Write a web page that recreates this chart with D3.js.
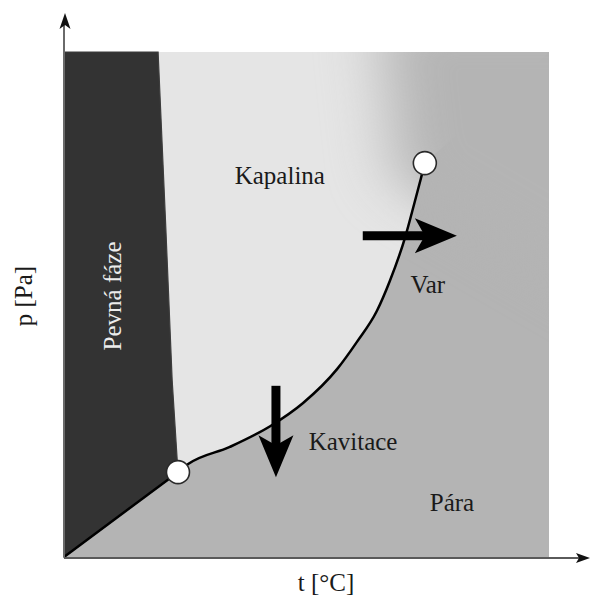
<!DOCTYPE html>
<html>
<head>
<meta charset="utf-8">
<script src="https://cdn.jsdelivr.net/npm/d3@7"></script>
<style>
  html, body { margin: 0; padding: 0; background: #fff; }
  svg { display: block; }
  text { font-family: "Liberation Serif", "Times New Roman", "DejaVu Serif", serif; }
</style>
</head>
<body>
<svg id="chart" width="590" height="598"></svg>
<script>
// ---- data (t, p in relative units 0..100) ----
const tDomain = [0, 100];
const pDomain = [0, 100];
const triplePoint = [23.5, 16.8];
const criticalPoint = [74.4, 78.0];
const meltingLine = [[19.4, 100], [21.0, 65], [22.3, 35], [23.5, 16.8]];
const sublimationLine = [[0, 0], [23.5, 16.8]];
const boilingCurve = [[23.5, 16.8], [25.6, 18.4], [34.2, 21.8], [42.5, 25.9], [49.3, 30.5],
  [56.3, 37.2], [60.4, 42.6], [64.5, 48.7], [67.2, 54.7], [70.3, 63.2], [72.2, 69.9],
  [73.6, 75.0], [74.4, 78.0]];
const regionLabels = [
  { text: "Kapalina", t: 44.5, p: 73.9 },
  { text: "Var", t: 75.0, p: 52.3 },
  { text: "Kavitace", t: 59.6, p: 21.2 },
  { text: "Pára", t: 80.0, p: 9.1 }
];
const solidLabel = { text: "Pevná fáze", t: 11.8, p: 51.7 };
const processArrows = [
  { from: [61.6, 63.6], to: [81.0, 63.6] },
  { from: [43.7, 33.9], to: [43.7, 15.8] }
];
const axisLabels = { x: "t [°C]", y: "p [Pa]" };

// ---- layout ----
const svg = d3.select("#chart");
const x = d3.scaleLinear().domain(tDomain).range([64, 549]);
const y = d3.scaleLinear().domain(pDomain).range([557, 52]);

const colVapor = "#b4b4b4", colLiquid = "#e5e5e5", colSolid = "#333333";

const defs = svg.append("defs");
defs.append("filter").attr("id", "soft").attr("filterUnits", "userSpaceOnUse")
  .attr("color-interpolation-filters", "sRGB")
  .attr("x", -100).attr("y", -100).attr("width", 800).attr("height", 800)
  .append("feGaussianBlur").attr("stdDeviation", "30 24");
defs.append("clipPath").attr("id", "plotclip").append("rect")
  .attr("x", x(0)).attr("y", y(100)).attr("width", x(100) - x(0)).attr("height", y(0) - y(100));

const curveLine = d3.line().x(d => x(d[0])).y(d => y(d[1])).curve(d3.curveMonotoneX);
const straight = d3.line().x(d => x(d[0])).y(d => y(d[1]));

// vapor background
svg.append("rect").attr("x", x(0)).attr("y", y(100))
  .attr("width", x(100) - x(0)).attr("height", y(0) - y(100)).attr("fill", colVapor);

// liquid region
const cx = x(criticalPoint[0]), cy = y(criticalPoint[1]);
let liquidPath = curveLine(boilingCurve)
  + "L" + x(100) + "," + y(100)
  + "L" + x(meltingLine[0][0]) + "," + y(100);
meltingLine.slice(1).forEach(d => { liquidPath += "L" + x(d[0]) + "," + y(d[1]); });
liquidPath += "Z";
svg.append("path").attr("d", liquidPath).attr("fill", colLiquid);

// supercritical fade (soft vapour cloud above the critical point)
svg.append("g").attr("clip-path", "url(#plotclip)")
  .append("path")
  .attr("d", `M${cx - 28},${cy + 16}L${cx - 46},${y(100) - 40}L${x(100) + 80},${y(100) - 40}L${x(100) + 80},${cy + 150}Z`)
  .attr("fill", colVapor).attr("filter", "url(#soft)");

// solid region
const solidPts = [[0, 0], [0, 100]].concat(meltingLine).concat([[0, 0]]);
svg.append("path").attr("d", straight(solidPts) + "Z").attr("fill", colSolid)
  .attr("stroke", "#3d3d3d").attr("stroke-width", 1.2);

// phase lines
svg.append("path").attr("d", straight(sublimationLine)).attr("fill", "none")
  .attr("stroke", "#000").attr("stroke-width", 2.5);
svg.append("path").attr("d", curveLine(boilingCurve)).attr("fill", "none")
  .attr("stroke", "#000").attr("stroke-width", 2.5);

// axes
function arrowHead(tipX, tipY, dx, dy, len, hw, notch, fill) {
  const px = -dy, py = dx;
  const bx = tipX - dx * len, by = tipY - dy * len;
  const nx = tipX - dx * (len - notch), ny = tipY - dy * (len - notch);
  return svg.append("path")
    .attr("d", `M${tipX},${tipY}L${bx + px * hw},${by + py * hw}L${nx},${ny}L${bx - px * hw},${by - py * hw}Z`)
    .attr("fill", fill);
}
svg.append("line").attr("x1", x(0)).attr("y1", y(0)).attr("x2", x(0)).attr("y2", 22)
  .attr("stroke", "#6a6a6a").attr("stroke-width", 2);
arrowHead(x(0) + 1, 13, 0, -1, 16, 5.5, 4, "#111");
svg.append("line").attr("x1", x(0)).attr("y1", y(0) + 1).attr("x2", 580).attr("y2", y(0) + 1)
  .attr("stroke", "#5a5a5a").attr("stroke-width", 2);
arrowHead(590, y(0) + 1, 1, 0, 14, 5, 3, "#111");

// process arrows
processArrows.forEach(a => {
  const x0 = x(a.from[0]), y0 = y(a.from[1]), x1 = x(a.to[0]), y1 = y(a.to[1]);
  const L = Math.hypot(x1 - x0, y1 - y0), dx = (x1 - x0) / L, dy = (y1 - y0) / L;
  const headLen = 42, notch = 10, hw = 17.5, sw = 4.5;
  const px = -dy, py = dx;
  const sx = x1 - dx * (headLen - notch - 2), sy = y1 - dy * (headLen - notch - 2);
  svg.append("path")
    .attr("d", `M${x0 + px * sw},${y0 + py * sw}L${sx + px * sw},${sy + py * sw}L${sx - px * sw},${sy - py * sw}L${x0 - px * sw},${y0 - py * sw}Z`)
    .attr("fill", "#000");
  arrowHead(x1, y1, dx, dy, headLen, hw, notch, "#000");
});

// points
[triplePoint, criticalPoint].forEach(d => {
  svg.append("circle").attr("cx", x(d[0])).attr("cy", y(d[1])).attr("r", 11.5)
    .attr("fill", "#fff").attr("stroke", "#2a2a2a").attr("stroke-width", 1.6);
});

// labels
regionLabels.forEach(l => {
  svg.append("text").attr("x", x(l.t)).attr("y", y(l.p)).attr("text-anchor", "middle")
    .attr("font-size", 25).attr("fill", "#1a1a1a").text(l.text);
});
svg.append("text").attr("transform", `translate(${x(solidLabel.t)},${y(solidLabel.p)}) rotate(-90)`)
  .attr("text-anchor", "middle").attr("font-size", 25).attr("fill", "#ececec").text(solidLabel.text);

svg.append("text").attr("x", 326).attr("y", 591).attr("text-anchor", "middle")
  .attr("font-size", 25).attr("fill", "#1a1a1a").text(axisLabels.x);
svg.append("text").attr("transform", "translate(32,296) rotate(-90)")
  .attr("text-anchor", "middle").attr("font-size", 25).attr("fill", "#1a1a1a").text(axisLabels.y);
</script>
</body>
</html>
